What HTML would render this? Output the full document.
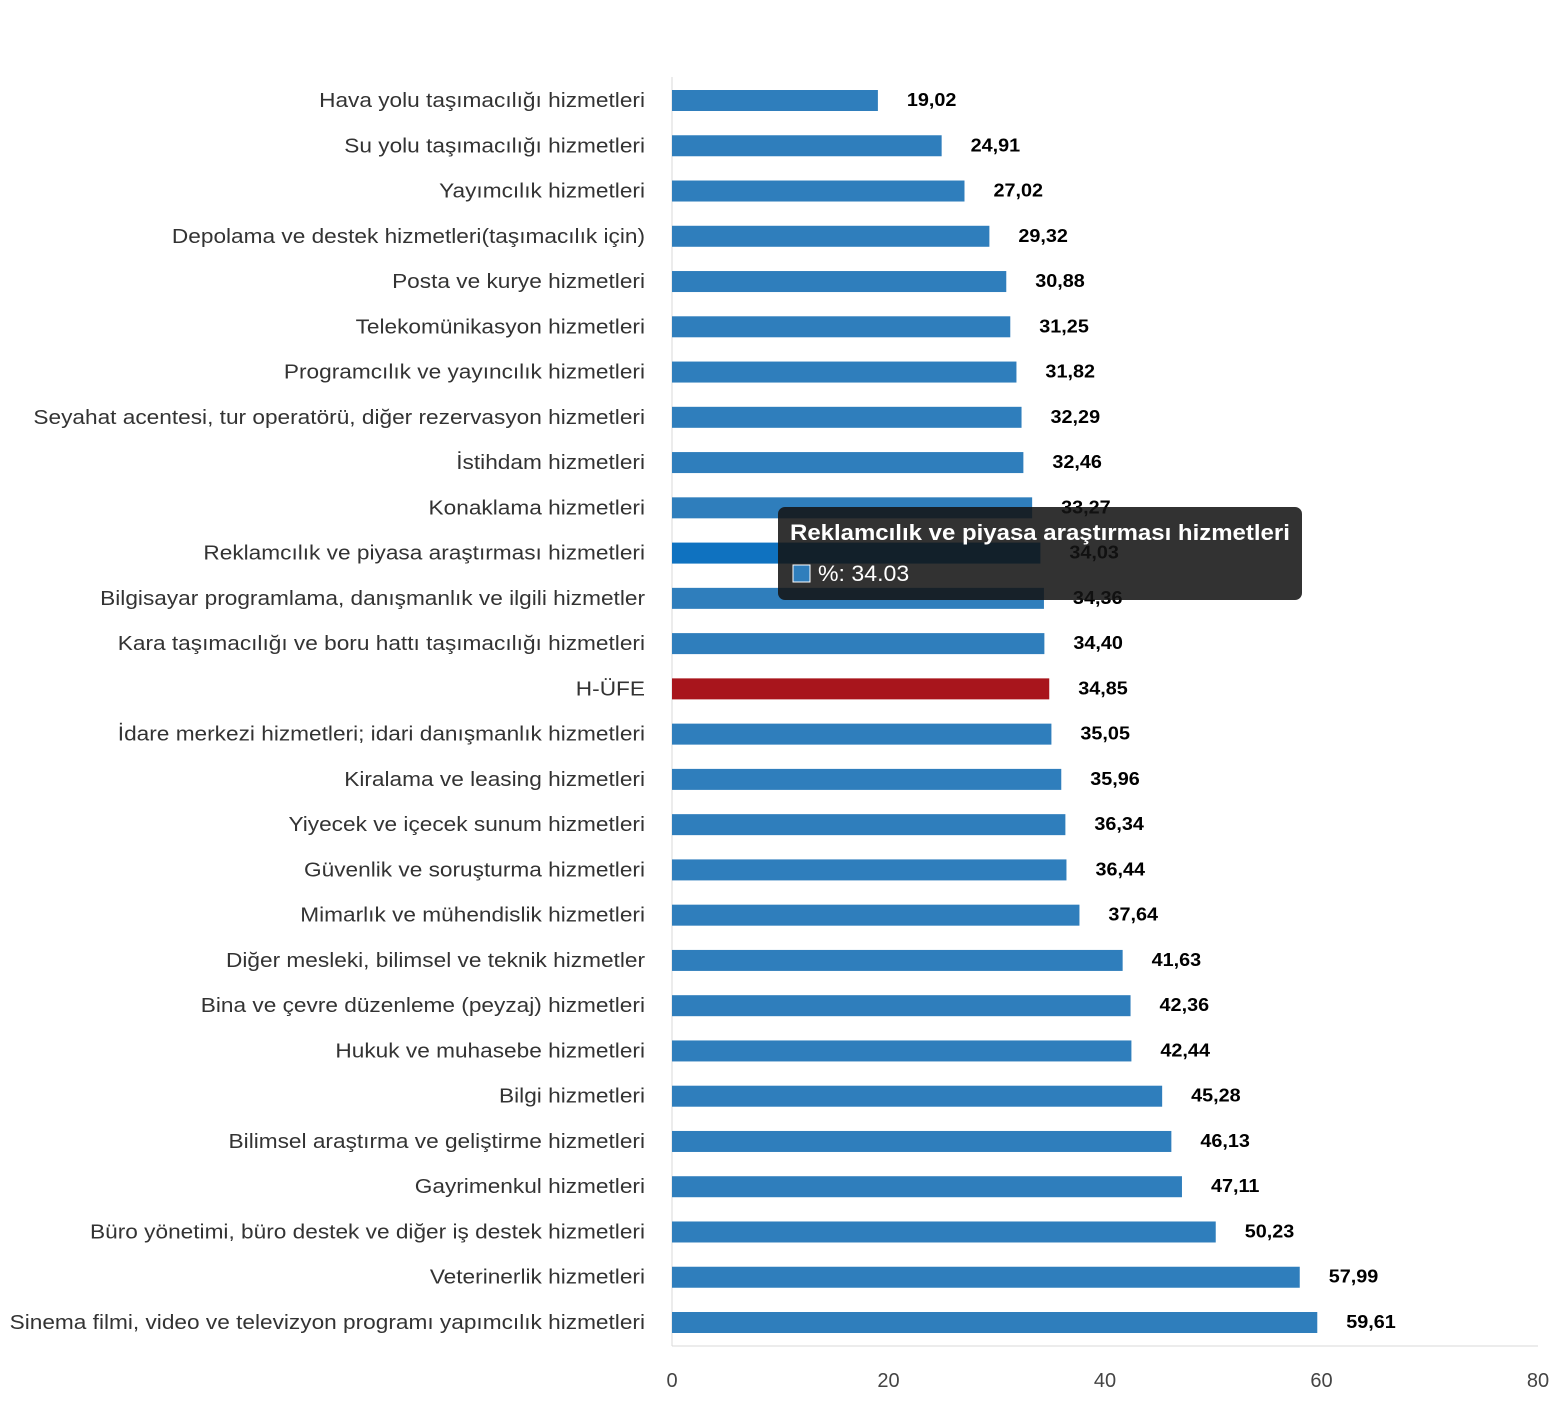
<!DOCTYPE html>
<html><head><meta charset="utf-8"><style>
body{margin:0;background:#fff;width:1556px;height:1400px;overflow:hidden;font-family:"Liberation Sans","DejaVu Sans",sans-serif}
</style></head><body>
<svg id="chart" width="1556" height="1400" xmlns="http://www.w3.org/2000/svg"></svg>
<script>
const categories=["Hava yolu taşımacılığı hizmetleri","Su yolu taşımacılığı hizmetleri","Yayımcılık hizmetleri","Depolama ve destek hizmetleri(taşımacılık için)","Posta ve kurye hizmetleri","Telekomünikasyon hizmetleri","Programcılık ve yayıncılık hizmetleri","Seyahat acentesi, tur operatörü, diğer rezervasyon hizmetleri","İstihdam hizmetleri","Konaklama hizmetleri","Reklamcılık ve piyasa araştırması hizmetleri","Bilgisayar programlama, danışmanlık ve ilgili hizmetler","Kara taşımacılığı ve boru hattı taşımacılığı hizmetleri","H-ÜFE","İdare merkezi hizmetleri; idari danışmanlık hizmetleri","Kiralama ve leasing hizmetleri","Yiyecek ve içecek sunum hizmetleri","Güvenlik ve soruşturma hizmetleri","Mimarlık ve mühendislik hizmetleri","Diğer mesleki, bilimsel ve teknik hizmetler","Bina ve çevre düzenleme (peyzaj) hizmetleri","Hukuk ve muhasebe hizmetleri","Bilgi hizmetleri","Bilimsel araştırma ve geliştirme hizmetleri","Gayrimenkul hizmetleri","Büro yönetimi, büro destek ve diğer iş destek hizmetleri","Veterinerlik hizmetleri","Sinema filmi, video ve televizyon programı yapımcılık hizmetleri"];
const values=[19.02,24.91,27.02,29.32,30.88,31.25,31.82,32.29,32.46,33.27,34.03,34.36,34.40,34.85,35.05,35.96,36.34,36.44,37.64,41.63,42.36,42.44,45.28,46.13,47.11,50.23,57.99,59.61];
const ticks=[0,20,40,60,80];
const highlightIndex=10, refIndex=13;
const NS="http://www.w3.org/2000/svg";
const svg=document.getElementById('chart');
const x0=672,x1=1538,xmax=80;
const xs=v=>x0+(x1-x0)*v/xmax;
const yTop=100,step=(1322-100)/27;
const ys=i=>yTop+i*step;
function mk(t,a,p){const e=document.createElementNS(NS,t);for(const k in a)e.setAttribute(k,a[k]);(p||svg).appendChild(e);return e;}
function widen(e,f){const w=e.getComputedTextLength();e.setAttribute('textLength',w*f);e.setAttribute('lengthAdjust','spacingAndGlyphs');}
let l=mk('line',{x1:x0,y1:77,x2:x0,y2:1346,stroke:'#d9d9d9','stroke-width':1});


l=mk('line',{x1:x0,y1:1346,x2:x1,y2:1346,stroke:'#d9d9d9','stroke-width':1});


ticks.forEach(t=>{const e=mk('text',{x:xs(t),y:1387,'text-anchor':'middle','font-size':20,fill:'#444'});e.textContent=t;

});
categories.forEach((c,i)=>{const y=ys(i);
const lab=mk('text',{x:645,y:y+7,'text-anchor':'end','font-size':20,fill:'#333'});lab.textContent=c;


widen(lab,1.132);
const col=i===refIndex?'#a8151c':(i===highlightIndex?'#0f72c0':'#2f7ebc');
const b=mk('rect',{x:x0,y:y-10,width:xs(values[i])-x0,height:21,fill:col});


const v=mk('text',{x:xs(values[i])+29,y:y+6,'font-size':18,'font-weight':'bold',fill:'#000'});v.textContent=values[i].toFixed(2).replace('.',',');


widen(v,1.1);});
const g=mk('g',{});


mk('rect',{x:778,y:507,width:524,height:93,rx:7,fill:'rgba(20,20,20,0.87)'},g);
const tt=mk('text',{x:790,y:540,'font-size':22,'font-weight':'bold',fill:'#fff'},g);tt.textContent=categories[highlightIndex];
widen(tt,1.09);
mk('rect',{x:793,y:565,width:17,height:17,fill:'#2f7ebc',stroke:'#fff','stroke-width':1},g);
const tv=mk('text',{x:818,y:581,'font-size':22,fill:'#fff'},g);tv.textContent='%: '+values[highlightIndex].toFixed(2);
widen(tv,1.05);
</script>
</body></html>
